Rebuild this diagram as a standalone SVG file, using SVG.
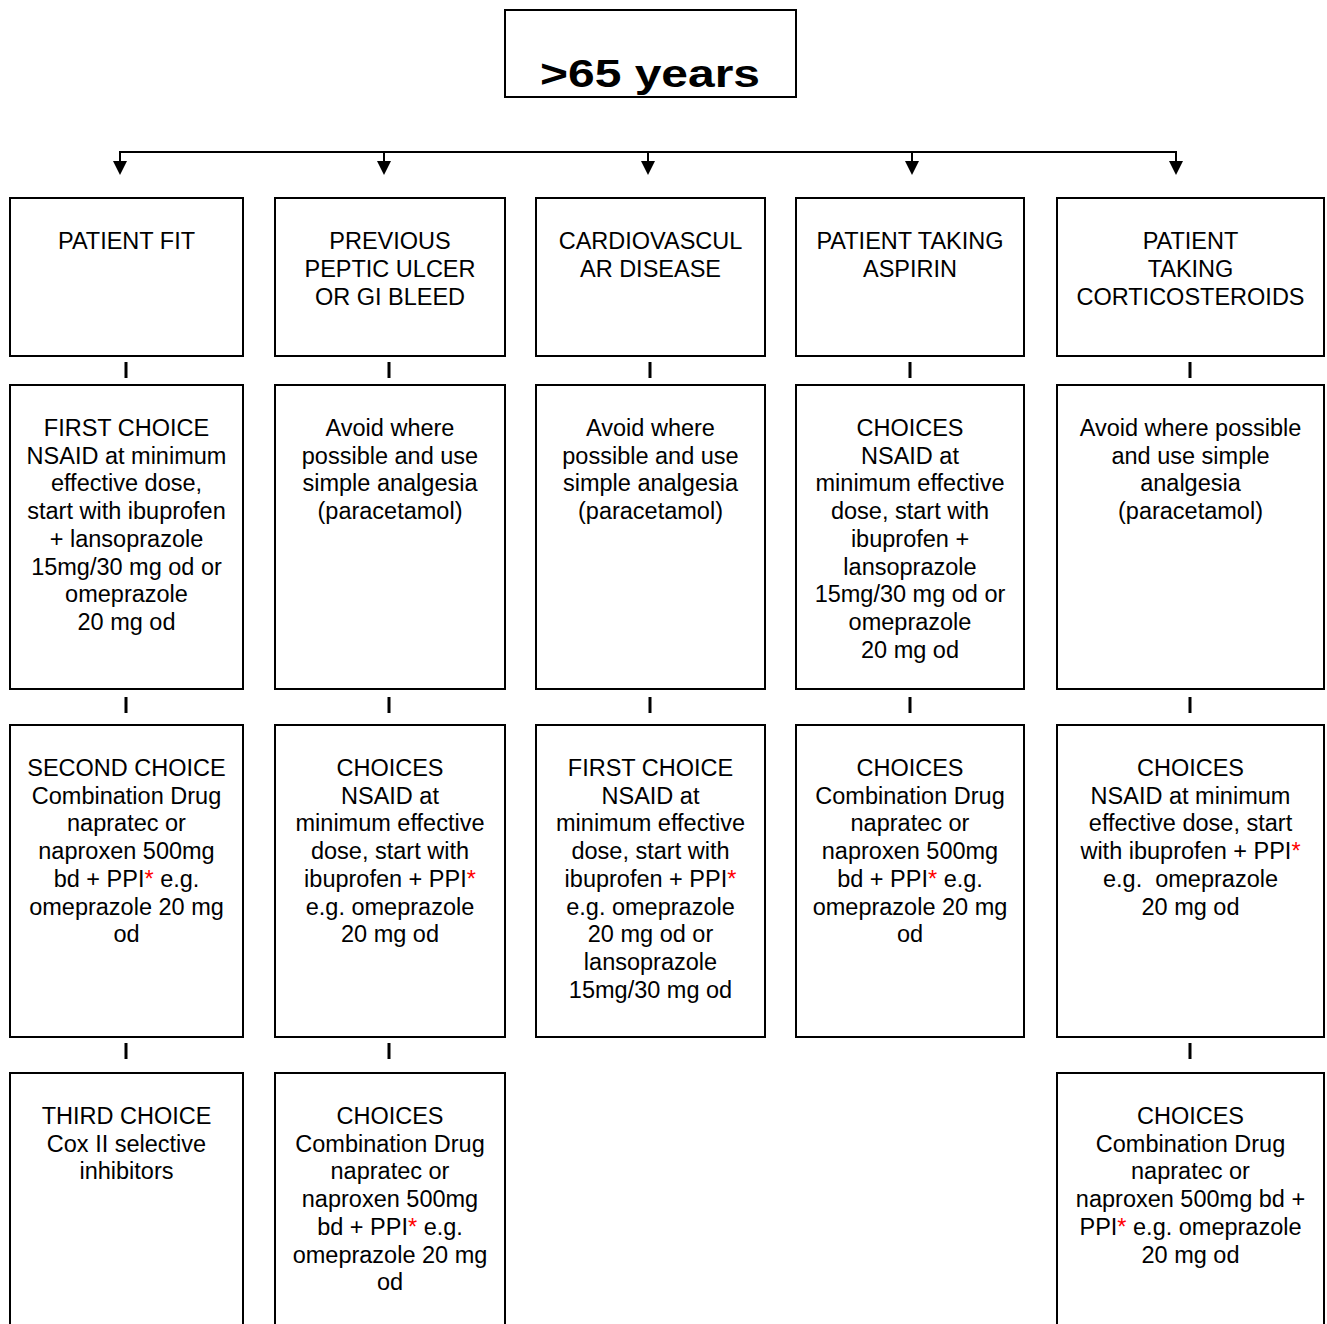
<svg xmlns="http://www.w3.org/2000/svg" width="1327" height="1324" viewBox="0 0 1327 1324">
  <style>
    .box { fill: #ffffff; stroke: #000000; stroke-width: 2; }
    .t { font-family: "Liberation Sans", Arial, sans-serif; font-size: 23.5px; fill: #000000; text-anchor: middle; }
    .title { font-family: "Liberation Sans", Arial, sans-serif; font-size: 38px; font-weight: bold; fill: #000000; text-anchor: middle; }
    .star { fill: #ff0000; }
    .wire { stroke: #000000; stroke-width: 2; fill: none; }
    .tick { stroke: #000000; stroke-width: 3; }
  </style>
  <defs>
    <!-- filled triangular head, tip 14px beyond the end of the stub -->
    <marker id="arrow" markerWidth="14" markerHeight="14" refX="0" refY="7" orient="auto" markerUnits="userSpaceOnUse" viewBox="0 0 14 14">
      <path d="M0,0 L14,7 L0,14 Z" fill="#000000"/>
    </marker>
  </defs>
  <rect width="1327" height="1324" fill="#ffffff"/>

  <!-- root -->
  <g id="root">
    <rect class="box" x="505" y="10" width="291" height="87"/>
    <text class="title" x="650" y="87" textLength="220" lengthAdjust="spacingAndGlyphs">&gt;65 years</text>
  </g>

  <!-- connectors -->
  <g id="connectors">
    <path class="wire" d="M120,152 H1176"/>
    <path class="wire" d="M120,151 V161" marker-end="url(#arrow)"/>
    <path class="wire" d="M384,151 V161" marker-end="url(#arrow)"/>
    <path class="wire" d="M648,151 V161" marker-end="url(#arrow)"/>
    <path class="wire" d="M912,151 V161" marker-end="url(#arrow)"/>
    <path class="wire" d="M1176,151 V161" marker-end="url(#arrow)"/>
    <!-- ticks between rows -->
    <line class="tick" x1="126" y1="362" x2="126" y2="378"/>
    <line class="tick" x1="389" y1="362" x2="389" y2="378"/>
    <line class="tick" x1="650" y1="362" x2="650" y2="378"/>
    <line class="tick" x1="910" y1="362" x2="910" y2="378"/>
    <line class="tick" x1="1190" y1="362" x2="1190" y2="378"/>
    <line class="tick" x1="126" y1="697" x2="126" y2="713"/>
    <line class="tick" x1="389" y1="697" x2="389" y2="713"/>
    <line class="tick" x1="650" y1="697" x2="650" y2="713"/>
    <line class="tick" x1="910" y1="697" x2="910" y2="713"/>
    <line class="tick" x1="1190" y1="697" x2="1190" y2="713"/>
    <line class="tick" x1="126" y1="1043" x2="126" y2="1059"/>
    <line class="tick" x1="389" y1="1043" x2="389" y2="1059"/>
    <line class="tick" x1="1190" y1="1043" x2="1190" y2="1059"/>
  </g>

  <!-- row 1 -->
  <g id="fit">
    <rect class="box" x="10" y="198" width="233" height="158"/>
    <text class="t"><tspan x="126.5" y="249">PATIENT FIT</tspan></text>
  </g>
  <g id="ulcer">
    <rect class="box" x="275" y="198" width="230" height="158"/>
    <text class="t"><tspan x="390" y="249">PREVIOUS</tspan><tspan x="390" y="277">PEPTIC ULCER</tspan><tspan x="390" y="305">OR GI BLEED</tspan></text>
  </g>
  <g id="cardio">
    <rect class="box" x="536" y="198" width="229" height="158"/>
    <text class="t"><tspan x="650.5" y="249">CARDIOVASCUL</tspan><tspan x="650.5" y="277">AR DISEASE</tspan></text>
  </g>
  <g id="aspirin">
    <rect class="box" x="796" y="198" width="228" height="158"/>
    <text class="t"><tspan x="910" y="249">PATIENT TAKING</tspan><tspan x="910" y="277">ASPIRIN</tspan></text>
  </g>
  <g id="steroids">
    <rect class="box" x="1057" y="198" width="267" height="158"/>
    <text class="t"><tspan x="1190.5" y="249">PATIENT</tspan><tspan x="1190.5" y="277">TAKING</tspan><tspan x="1190.5" y="305">CORTICOSTEROIDS</tspan></text>
  </g>

  <!-- row 2 -->
  <g id="fit-first">
    <rect class="box" x="10" y="385" width="233" height="304"/>
    <text class="t"><tspan x="126.5" y="436">FIRST CHOICE</tspan><tspan x="126.5" y="463.7">NSAID at minimum</tspan><tspan x="126.5" y="491.4">effective dose,</tspan><tspan x="126.5" y="519.1">start with ibuprofen</tspan><tspan x="126.5" y="546.8">+ lansoprazole</tspan><tspan x="126.5" y="574.5">15mg/30 mg od or</tspan><tspan x="126.5" y="602.2">omeprazole</tspan><tspan x="126.5" y="629.9">20 mg od</tspan></text>
  </g>
  <g id="ulcer-avoid">
    <rect class="box" x="275" y="385" width="230" height="304"/>
    <text class="t"><tspan x="390" y="436">Avoid where</tspan><tspan x="390" y="463.7">possible and use</tspan><tspan x="390" y="491.4">simple analgesia</tspan><tspan x="390" y="519.1">(paracetamol)</tspan></text>
  </g>
  <g id="cardio-avoid">
    <rect class="box" x="536" y="385" width="229" height="304"/>
    <text class="t"><tspan x="650.5" y="436">Avoid where</tspan><tspan x="650.5" y="463.7">possible and use</tspan><tspan x="650.5" y="491.4">simple analgesia</tspan><tspan x="650.5" y="519.1">(paracetamol)</tspan></text>
  </g>
  <g id="aspirin-choices">
    <rect class="box" x="796" y="385" width="228" height="304"/>
    <text class="t"><tspan x="910" y="436">CHOICES</tspan><tspan x="910" y="463.7">NSAID at</tspan><tspan x="910" y="491.4">minimum effective</tspan><tspan x="910" y="519.1">dose, start with</tspan><tspan x="910" y="546.8">ibuprofen +</tspan><tspan x="910" y="574.5">lansoprazole</tspan><tspan x="910" y="602.2">15mg/30 mg od or</tspan><tspan x="910" y="629.9">omeprazole</tspan><tspan x="910" y="657.6">20 mg od</tspan></text>
  </g>
  <g id="steroids-avoid">
    <rect class="box" x="1057" y="385" width="267" height="304"/>
    <text class="t"><tspan x="1190.5" y="436">Avoid where possible</tspan><tspan x="1190.5" y="463.7">and use simple</tspan><tspan x="1190.5" y="491.4">analgesia</tspan><tspan x="1190.5" y="519.1">(paracetamol)</tspan></text>
  </g>

  <!-- row 3 -->
  <g id="fit-second">
    <rect class="box" x="10" y="725" width="233" height="312"/>
    <text class="t"><tspan x="126.5" y="776">SECOND CHOICE</tspan><tspan x="126.5" y="803.7">Combination Drug</tspan><tspan x="126.5" y="831.4">napratec or</tspan><tspan x="126.5" y="859.1">naproxen 500mg</tspan><tspan x="126.5" y="886.8">bd + PPI<tspan class="star">*</tspan> e.g.</tspan><tspan x="126.5" y="914.5">omeprazole 20 mg</tspan><tspan x="126.5" y="942.2">od</tspan></text>
  </g>
  <g id="ulcer-choices">
    <rect class="box" x="275" y="725" width="230" height="312"/>
    <text class="t"><tspan x="390" y="776">CHOICES</tspan><tspan x="390" y="803.7">NSAID at</tspan><tspan x="390" y="831.4">minimum effective</tspan><tspan x="390" y="859.1">dose, start with</tspan><tspan x="390" y="886.8">ibuprofen + PPI<tspan class="star">*</tspan></tspan><tspan x="390" y="914.5">e.g. omeprazole</tspan><tspan x="390" y="942.2">20 mg od</tspan></text>
  </g>
  <g id="cardio-first">
    <rect class="box" x="536" y="725" width="229" height="312"/>
    <text class="t"><tspan x="650.5" y="776">FIRST CHOICE</tspan><tspan x="650.5" y="803.7">NSAID at</tspan><tspan x="650.5" y="831.4">minimum effective</tspan><tspan x="650.5" y="859.1">dose, start with</tspan><tspan x="650.5" y="886.8">ibuprofen + PPI<tspan class="star">*</tspan></tspan><tspan x="650.5" y="914.5">e.g. omeprazole</tspan><tspan x="650.5" y="942.2">20 mg od or</tspan><tspan x="650.5" y="969.9">lansoprazole</tspan><tspan x="650.5" y="997.6">15mg/30 mg od</tspan></text>
  </g>
  <g id="aspirin-combo">
    <rect class="box" x="796" y="725" width="228" height="312"/>
    <text class="t"><tspan x="910" y="776">CHOICES</tspan><tspan x="910" y="803.7">Combination Drug</tspan><tspan x="910" y="831.4">napratec or</tspan><tspan x="910" y="859.1">naproxen 500mg</tspan><tspan x="910" y="886.8">bd + PPI<tspan class="star">*</tspan> e.g.</tspan><tspan x="910" y="914.5">omeprazole 20 mg</tspan><tspan x="910" y="942.2">od</tspan></text>
  </g>
  <g id="steroids-choices">
    <rect class="box" x="1057" y="725" width="267" height="312"/>
    <text class="t"><tspan x="1190.5" y="776">CHOICES</tspan><tspan x="1190.5" y="803.7">NSAID at minimum</tspan><tspan x="1190.5" y="831.4">effective dose, start</tspan><tspan x="1190.5" y="859.1">with ibuprofen + PPI<tspan class="star">*</tspan></tspan><tspan x="1190.5" y="886.8">e.g.&#160; omeprazole</tspan><tspan x="1190.5" y="914.5">20 mg od</tspan></text>
  </g>

  <!-- row 4 (continues past the lower edge) -->
  <g id="fit-third">
    <rect class="box" x="10" y="1073" width="233" height="270"/>
    <text class="t"><tspan x="126.5" y="1124">THIRD CHOICE</tspan><tspan x="126.5" y="1151.7">Cox II selective</tspan><tspan x="126.5" y="1179.4">inhibitors</tspan></text>
  </g>
  <g id="ulcer-combo">
    <rect class="box" x="275" y="1073" width="230" height="270"/>
    <text class="t"><tspan x="390" y="1124">CHOICES</tspan><tspan x="390" y="1151.7">Combination Drug</tspan><tspan x="390" y="1179.4">napratec or</tspan><tspan x="390" y="1207.1">naproxen 500mg</tspan><tspan x="390" y="1234.8">bd + PPI<tspan class="star">*</tspan> e.g.</tspan><tspan x="390" y="1262.5">omeprazole 20 mg</tspan><tspan x="390" y="1290.2">od</tspan></text>
  </g>
  <g id="steroids-combo">
    <rect class="box" x="1057" y="1073" width="267" height="270"/>
    <text class="t"><tspan x="1190.5" y="1124">CHOICES</tspan><tspan x="1190.5" y="1151.7">Combination Drug</tspan><tspan x="1190.5" y="1179.4">napratec or</tspan><tspan x="1190.5" y="1207.1">naproxen 500mg bd +</tspan><tspan x="1190.5" y="1234.8">PPI<tspan class="star">*</tspan> e.g. omeprazole</tspan><tspan x="1190.5" y="1262.5">20 mg od</tspan></text>
  </g>
</svg>
